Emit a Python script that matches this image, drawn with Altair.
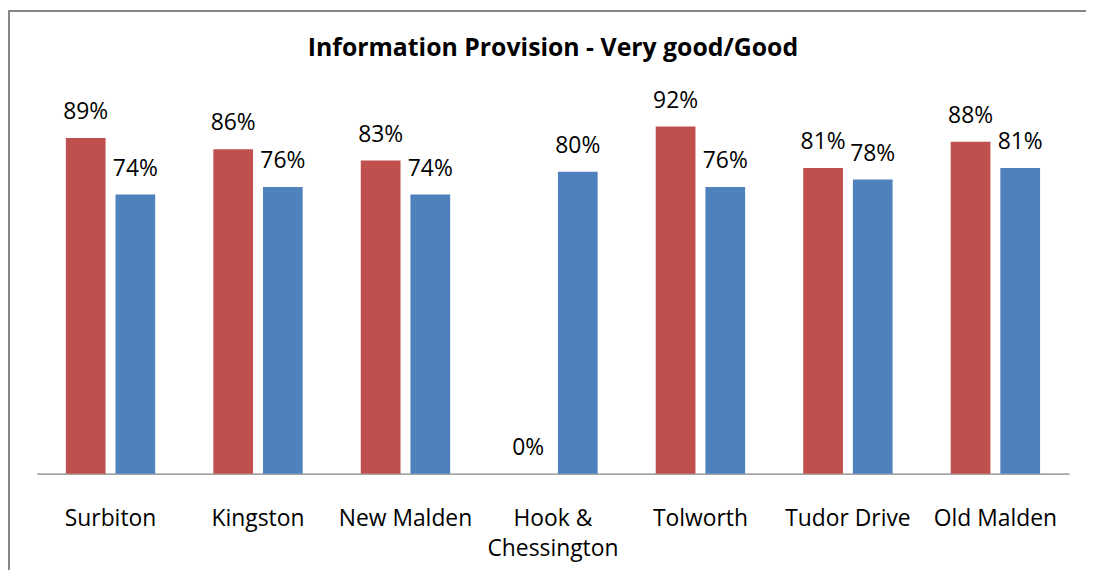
import altair as alt
import pandas as pd

categories = ["Surbiton", "Kingston", "New Malden", "Hook & Chessington",
              "Tolworth", "Tudor Drive", "Old Malden"]
series_names = ["Series 1", "Series 2"]
series1 = [89, 86, 83, 0, 92, 81, 88]
series2 = [74, 76, 74, 80, 76, 78, 81]
colors = ["#C0504D", "#4F81BD"]

rows = []
for c, a, b in zip(categories, series1, series2):
    rows.append({"area": c, "series": series_names[0], "value": a})
    rows.append({"area": c, "series": series_names[1], "value": b})
df = pd.DataFrame(rows)
df["label"] = df["value"].astype(int).astype(str) + "%"

W, H = 1040, 380
FONT = "Open Sans"

x = alt.X("area:N", sort=categories, title=None,
          scale=alt.Scale(paddingInner=0.394, paddingOuter=0.197),
          axis=alt.Axis(labelAngle=0, ticks=False, labelPadding=52,
                        labelBaseline="alphabetic", labelFontSize=23,
                        labelFont=FONT, labelColor="#000000",
                        labelLineHeight=30,
                        labelExpr="datum.value == 'Hook & Chessington' ? ['Hook &', 'Chessington'] : datum.value",
                        domainColor="#A6A6A6", domainWidth=2, grid=False))
xo = alt.XOffset("series:N", sort=series_names,
                 scale=alt.Scale(paddingInner=0.2, paddingOuter=0))
y = alt.Y("value:Q", scale=alt.Scale(domain=[0, 100], nice=False), axis=None)
col = alt.Color("series:N", sort=series_names,
                scale=alt.Scale(domain=series_names, range=colors), legend=None)

base = alt.Chart(df)
bars = base.mark_bar().encode(x=x, xOffset=xo, y=y, color=col)
labels = base.mark_text(baseline="alphabetic", dy=-19, fontSize=23,
                        font=FONT, color="#000000").encode(
    x=x, xOffset=xo, y=y, text="label:N")

border = alt.Chart(pd.DataFrame({"k": [0]})).mark_rect(
    fill=None, stroke="#868686", strokeWidth=2).encode(
    x=alt.value(-28), x2=alt.value(W + 200),
    y=alt.value(-86), y2=alt.value(H + 300))

chart = alt.layer(border, bars, labels).properties(
    width=W, height=H,
    padding={"left": 29, "top": 87, "right": 17, "bottom": 95},
    autosize=alt.AutoSizeParams(type="none"),
    title=alt.Title("Information Provision - Very good/Good", font=FONT,
                    fontSize=25, fontWeight="bold", color="#000000",
                    anchor="middle", baseline="alphabetic", offset=0, dy=71,
                    frame="group"),
).configure_view(stroke=None)

chart.save("out.html", embed_options={"renderer": "svg", "actions": False})
